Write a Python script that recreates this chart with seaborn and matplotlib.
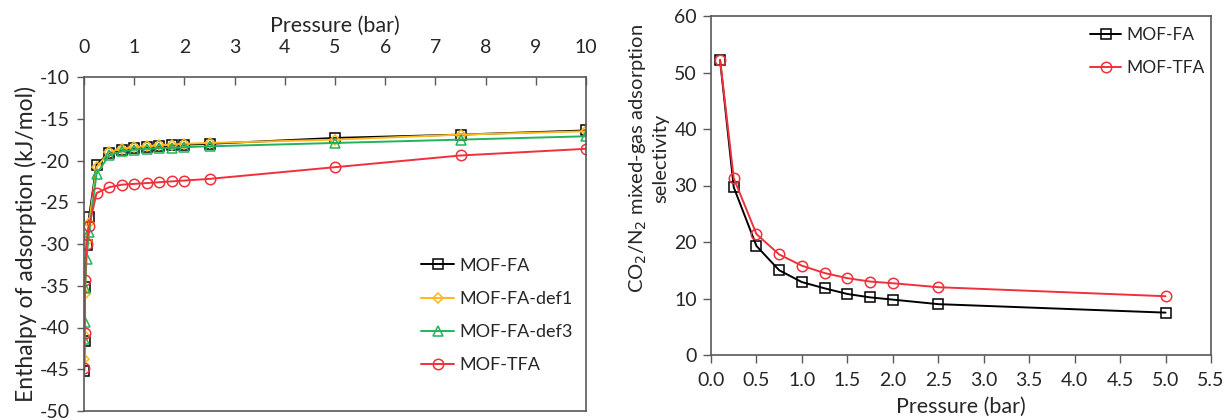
import numpy as np
import pandas as pd
import matplotlib
matplotlib.use("Agg")
import matplotlib.pyplot as plt
import seaborn as sns

sns.set_style("white")
plt.rcParams['font.family'] = ['Lato', 'DejaVu Sans']
plt.rcParams['axes.unicode_minus'] = False

# -------------------------------------------------------------
# data
# -------------------------------------------------------------
pressure_h = [0.005, 0.01, 0.02, 0.05, 0.1, 0.25, 0.5, 0.75, 1.0, 1.25,
              1.5, 1.75, 2.0, 2.5, 5.0, 7.5, 10.0]
h_fa = [-45.2, -41.6, -35.1, -30.1, -26.8, -20.5, -19.1, -18.7, -18.5, -18.4,
        -18.3, -18.2, -18.1, -18.0, -17.3, -16.9, -16.4]
h_fa_def1 = [-43.8, -41.0, -36.0, -29.6, -27.5, -20.8, -19.0, -18.6, -18.4, -18.3,
             -18.2, -18.1, -18.0, -17.9, -17.5, -16.9, -16.5]
h_fa_def3 = [-41.4, -39.3, -35.3, -31.8, -28.6, -21.6, -19.4, -18.9, -18.7, -18.6,
             -18.5, -18.5, -18.4, -18.3, -17.9, -17.5, -17.1]
h_tfa = [-44.8, -40.7, -34.3, -30.0, -27.9, -23.9, -23.2, -22.9, -22.8, -22.7,
         -22.6, -22.5, -22.4, -22.2, -20.8, -19.4, -18.6]

pressure_s = [0.1, 0.25, 0.5, 0.75, 1.0, 1.25, 1.5, 1.75, 2.0, 2.5, 5.0]
sel_fa = [52.2, 29.7, 19.3, 15.0, 12.9, 11.8, 10.8, 10.2, 9.8, 9.0, 7.5]
sel_tfa = [52.2, 31.3, 21.4, 17.8, 15.8, 14.5, 13.6, 13.0, 12.7, 12.0, 10.4]

left_ticks_x = [0, 1, 2, 3, 4, 5, 6, 7, 8, 9, 10]
left_ticks_y = [-10, -15, -20, -25, -30, -35, -40, -45, -50]
right_ticks_x = [0.0, 0.5, 1.0, 1.5, 2.0, 2.5, 3.0, 3.5, 4.0, 4.5, 5.0, 5.5]
right_ticks_y = [0, 10, 20, 30, 40, 50, 60]

BLACK = "#000000"
ORANGE = "#FFB81C"
GREEN = "#22B35E"
RED = "#F0303A"
SPINE = "#595959"

fig = plt.figure(figsize=(12.25, 4.2), dpi=100)
ax1 = fig.add_axes([84 / 1225, 1 - 411 / 420, (586 - 84) / 1225, (411 - 77) / 420])
ax2 = fig.add_axes([711 / 1225, 1 - 355 / 420, (1211 - 711) / 1225, (355 - 16) / 420])

def draw(ax, x, y, name, color, marker, ms):
    sns.lineplot(x=x, y=y, ax=ax, color=color, marker=marker, markersize=ms,
                 markerfacecolor="none", markeredgecolor=color, markeredgewidth=1.1,
                 linewidth=1.4, label=name, sort=False)

# ---------------- left: enthalpy ----------------
draw(ax1, pressure_h, h_fa, "MOF-FA", BLACK, "s", 7)
draw(ax1, pressure_h, h_fa_def1, "MOF-FA-def1", ORANGE, "D", 5.5)
draw(ax1, pressure_h, h_fa_def3, "MOF-FA-def3", GREEN, "^", 7)
draw(ax1, pressure_h, h_tfa, "MOF-TFA", RED, "o", 7.5)

ax1.set_xlim(0, 10)
ax1.set_ylim(-50, -10)
ax1.set_xticks(left_ticks_x)
ax1.set_yticks(left_ticks_y)
ax1.xaxis.tick_top()
ax1.xaxis.set_label_position("top")
ax1.set_xlabel("Pressure (bar)", fontsize=15.5, labelpad=5)
ax1.set_ylabel("Enthalpy of adsorption (kJ/mol)", fontsize=16.5, labelpad=2)
ax1.tick_params(axis="x", direction="in", length=6, width=1, color=SPINE,
                labelsize=14, pad=15, top=True, bottom=False)
ax1.tick_params(axis="y", direction="out", length=5, width=1, color=SPINE,
                labelsize=14, pad=5, left=True)
for s in ax1.spines.values():
    s.set_color(SPINE)
    s.set_linewidth(1.2)
ax1.legend(loc="center left", bbox_to_anchor=(0.672, 0.286), frameon=False,
           fontsize=13, handlelength=1.8, handletextpad=0.3, labelspacing=0.95,
           borderpad=0, borderaxespad=0)

# ---------------- right: selectivity ----------------
draw(ax2, pressure_s, sel_fa, "MOF-FA", BLACK, "s", 7)
draw(ax2, pressure_s, sel_tfa, "MOF-TFA", RED, "o", 7.5)

ax2.set_xlim(0, 5.5)
ax2.set_ylim(0, 60)
ax2.set_xticks(right_ticks_x)
ax2.set_xticklabels([f"{v:.1f}" for v in right_ticks_x])
ax2.set_yticks(right_ticks_y)
ax2.set_xlabel("Pressure (bar)", fontsize=15.5, labelpad=6)
ax2.set_ylabel("CO$_2$/N$_2$ mixed-gas adsorption\nselectivity", fontsize=14.5,
               linespacing=1.25)
ax2.yaxis.set_label_coords(-0.083, 0.58)
ax2.tick_params(axis="x", direction="out", length=6, width=1, color=SPINE,
                labelsize=14, pad=6, bottom=True)
ax2.tick_params(axis="y", direction="out", length=6, width=1, color=SPINE,
                labelsize=14, pad=4, left=True)
for s in ax2.spines.values():
    s.set_color(SPINE)
    s.set_linewidth(1.2)
ax2.legend(loc="center left", bbox_to_anchor=(0.758, 0.895), frameon=False,
           fontsize=12.5, handlelength=1.8, handletextpad=0.3, labelspacing=1.0,
           borderpad=0, borderaxespad=0)

fig.savefig("out.png", dpi=100)
